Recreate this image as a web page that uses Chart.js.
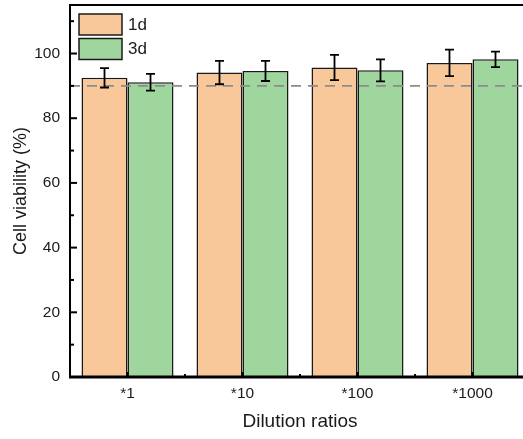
<!DOCTYPE html>
<html>
<head>
<meta charset="utf-8">
<script src="https://cdn.jsdelivr.net/npm/chart.js@4/dist/chart.umd.min.js"></script>
<style>
  html, body { margin: 0; padding: 0; background: #fff; overflow: hidden; }
  canvas { display: block; }
</style>
</head>
<body>
<canvas id="viabilityChart" width="540" height="439"></canvas>
<script>
// Datos de viabilidad celular por dilución
const CATEGORIES = ['*1', '*10', '*100', '*1000'];
const SERIES_LABELS = ['1d', '3d'];
const VIABILITY_1D = [92.5, 94.1, 95.7, 97.1];
const VIABILITY_3D = [91.1, 94.6, 94.8, 98.2];
const ERROR_1D = [3.0, 3.6, 3.9, 4.1];
const ERROR_3D = [2.6, 3.1, 3.4, 2.4];
const Y_TICKS = [0, 20, 40, 60, 80, 100];
const Y_MINOR = [10, 30, 50, 70, 90, 110];
const Y_MAX = 115;
const REFERENCE_LINE = 90;

const COLORS = {
  orange: '#f9c89a',
  green: '#9ed69e',
  border: '#1a1a1a',
  dash: '#8c8c8c',
  text: '#1a1a1a'
};
const FONT = 'Arial, "Liberation Sans", sans-serif';

// Marco, marcas internas, línea de referencia, barras de error y leyenda
const decorPlugin = {
  id: 'decor',
  afterDatasetsDraw(chart) {
    const { ctx, chartArea: a, scales: { x, y } } = chart;
    const errors = [ERROR_1D, ERROR_3D];

    ctx.save();
    // línea discontinua al 90%
    const yRef = y.getPixelForValue(REFERENCE_LINE);
    ctx.strokeStyle = COLORS.dash;
    ctx.lineWidth = 1.6;
    ctx.setLineDash([10, 7]);
    ctx.beginPath();
    ctx.moveTo(a.left, yRef);
    ctx.lineTo(a.right, yRef);
    ctx.stroke();
    ctx.setLineDash([]);

    // barras de error
    ctx.strokeStyle = '#000';
    ctx.lineWidth = 1.8;
    chart.data.datasets.forEach((ds, i) => {
      chart.getDatasetMeta(i).data.forEach((bar, j) => {
        const v = ds.data[j], e = errors[i][j];
        const top = y.getPixelForValue(v + e);
        const bot = y.getPixelForValue(v - e);
        ctx.beginPath();
        ctx.moveTo(bar.x, top); ctx.lineTo(bar.x, bot);
        ctx.moveTo(bar.x - 4.5, top); ctx.lineTo(bar.x + 4.5, top);
        ctx.moveTo(bar.x - 4.5, bot); ctx.lineTo(bar.x + 4.5, bot);
        ctx.stroke();
      });
    });
    ctx.restore();
  },
  afterDraw(chart) {
    const { ctx, chartArea: a, scales: { x, y } } = chart;
    ctx.save();
    ctx.strokeStyle = '#000';

    // marcas del eje Y hacia dentro
    ctx.lineWidth = 2;
    Y_TICKS.forEach(v => {
      const py = y.getPixelForValue(v);
      ctx.beginPath(); ctx.moveTo(a.left, py); ctx.lineTo(a.left + 7, py); ctx.stroke();
    });
    Y_MINOR.forEach(v => {
      const py = y.getPixelForValue(v);
      ctx.beginPath(); ctx.moveTo(a.left, py); ctx.lineTo(a.left + 4, py); ctx.stroke();
    });

    // marcas del eje X hacia dentro
    CATEGORIES.forEach((c, i) => {
      const px = x.getPixelForValue(i);
      ctx.beginPath(); ctx.moveTo(px, a.bottom); ctx.lineTo(px, a.bottom - 5); ctx.stroke();
      if (i > 0) {
        const mid = (px + x.getPixelForValue(i - 1)) / 2;
        ctx.beginPath(); ctx.moveTo(mid, a.bottom); ctx.lineTo(mid, a.bottom - 3); ctx.stroke();
      }
    });

    // marco
    ctx.lineWidth = 2;
    ctx.beginPath();
    ctx.moveTo(a.left, a.bottom); ctx.lineTo(a.left, a.top);
    ctx.lineTo(a.right, a.top); ctx.lineTo(a.right, a.bottom);
    ctx.stroke();
    ctx.lineWidth = 3;
    ctx.beginPath(); ctx.moveTo(a.left - 1, a.bottom); ctx.lineTo(a.right + 1, a.bottom); ctx.stroke();

    // leyenda
    const boxes = [COLORS.orange, COLORS.green];
    ctx.font = '17px ' + FONT;
    ctx.textBaseline = 'middle';
    boxes.forEach((col, i) => {
      const bx = a.left + 9, by = a.top + 9 + i * 24.5;
      ctx.fillStyle = col;
      ctx.fillRect(bx, by, 43, 21);
      ctx.lineWidth = 1.5;
      ctx.strokeStyle = COLORS.border;
      ctx.strokeRect(bx, by, 43, 21);
      ctx.fillStyle = COLORS.text;
      ctx.fillText(SERIES_LABELS[i], bx + 49, by + 11);
    });
    ctx.restore();
  }
};

const ctx = document.getElementById('viabilityChart').getContext('2d');
new Chart(ctx, {
  type: 'bar',
  data: {
    labels: CATEGORIES,
    datasets: [
      {
        label: SERIES_LABELS[0],
        data: VIABILITY_1D,
        backgroundColor: COLORS.orange,
        borderColor: COLORS.border,
        borderWidth: 1.5
      },
      {
        label: SERIES_LABELS[1],
        data: VIABILITY_3D,
        backgroundColor: COLORS.green,
        borderColor: COLORS.border,
        borderWidth: 1.5
      }
    ]
  },
  options: {
    responsive: false,
    animation: false,
    layout: { padding: { left: 0, top: 5, right: 10, bottom: 0 } },
    datasets: { bar: { categoryPercentage: 0.8, barPercentage: 1.0 } },
    plugins: {
      legend: { display: false },
      tooltip: { enabled: false }
    },
    scales: {
      x: {
        grid: { display: false, drawTicks: false },
        border: { display: false },
        ticks: { color: COLORS.text, font: { family: FONT, size: 15.5 }, padding: 7 },
        title: {
          display: true,
          text: 'Dilution ratios',
          color: COLORS.text,
          font: { family: FONT, size: 19 },
          padding: { top: 0, bottom: 6 }
        },
        afterFit: scale => {
          scale.height = 62;
          scale.paddingLeft = 0;
          scale.paddingRight = 0;
        }
      },
      y: {
        min: 0,
        max: Y_MAX,
        grid: { display: false, drawTicks: false },
        border: { display: false },
        afterBuildTicks: scale => { scale.ticks = Y_TICKS.map(v => ({ value: v })); },
        ticks: { color: COLORS.text, font: { family: FONT, size: 15.5 }, padding: 10 },
        title: {
          display: true,
          text: 'Cell viability (%)',
          color: COLORS.text,
          font: { family: FONT, size: 18 },
          padding: { top: 10, bottom: 0 }
        },
        afterFit: scale => {
          scale.width = 70;
          scale.paddingTop = 0;
          scale.paddingBottom = 0;
        }
      }
    }
  },
  plugins: [decorPlugin]
});
</script>
</body>
</html>
